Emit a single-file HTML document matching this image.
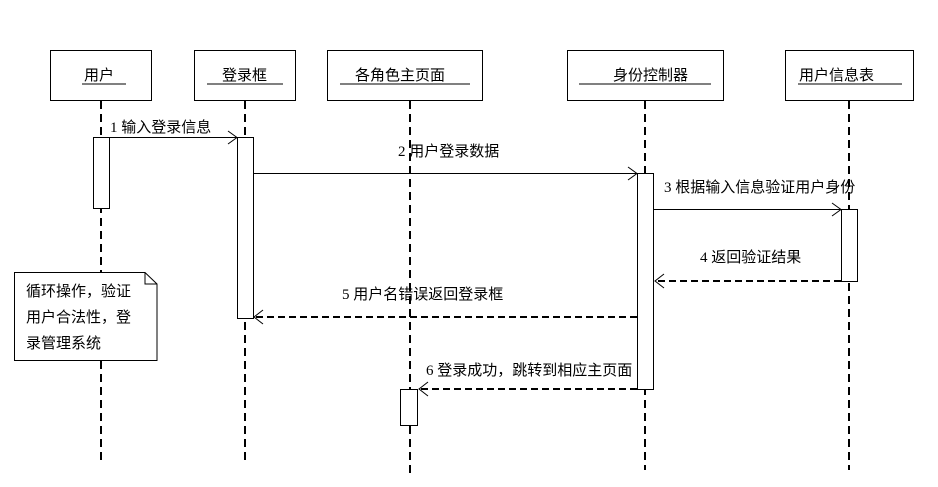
<!DOCTYPE html>
<html><head><meta charset="utf-8"><style>
html,body{margin:0;padding:0;background:#fff;}
svg text{font-family:"Liberation Serif","Noto Sans CJK SC",sans-serif;font-size:15px;fill:#000;}
</style></head><body>
<svg width="938" height="482" viewBox="0 0 938 482" xmlns="http://www.w3.org/2000/svg">
<g fill="#fff" stroke="#000" stroke-width="1">
<rect x="50.5" y="50.5" width="101" height="50"/>
<rect x="194.5" y="50.5" width="101" height="50"/>
<rect x="327.5" y="50.5" width="155" height="50"/>
<rect x="567.5" y="50.5" width="156" height="50"/>
<rect x="785.5" y="50.5" width="128" height="50"/>
</g>
<g stroke="#000" stroke-width="2" stroke-dasharray="8,5">
<line x1="101" y1="101" x2="101" y2="460"/>
<line x1="245" y1="101" x2="245" y2="460"/>
<line x1="410" y1="101" x2="410" y2="478"/>
<line x1="645" y1="101" x2="645" y2="470"/>
<line x1="849" y1="101" x2="849" y2="470"/>
</g>
<text x="84" y="80">用户</text>
<line x1="82" y1="84" x2="126" y2="84" stroke="#000"/>
<text x="222" y="80">登录框</text>
<line x1="207" y1="84" x2="283" y2="84" stroke="#000"/>
<text x="355" y="80">各角色主页面</text>
<line x1="340" y1="84" x2="470" y2="84" stroke="#000"/>
<text x="613" y="80">身份控制器</text>
<line x1="579" y1="84" x2="711" y2="84" stroke="#000"/>
<text x="799" y="80">用户信息表</text>
<line x1="798" y1="84" x2="902" y2="84" stroke="#000"/>
<g fill="#fff" stroke="#000" stroke-width="1">
<rect x="93.5" y="137.5" width="16" height="71"/>
<rect x="237.5" y="137.5" width="16" height="181"/>
<rect x="637.5" y="173.5" width="16" height="216"/>
<rect x="841.5" y="209.5" width="16" height="72"/>
<rect x="400.5" y="389.5" width="17" height="36"/>
</g>
<g stroke="#000" stroke-width="1" fill="none">
<line x1="110" y1="137.5" x2="237" y2="137.5"/>
<polyline points="228,131 237,137.5 228,144"/>
<line x1="254" y1="173.5" x2="637" y2="173.5"/>
<polyline points="628,167 637,173.5 628,180"/>
<line x1="654" y1="209.5" x2="841" y2="209.5"/>
<polyline points="832,203 841,209.5 832,216"/>
</g>
<g stroke="#000" stroke-width="2" fill="none" stroke-dasharray="7,4">
<line x1="841" y1="281" x2="656" y2="281"/>
<line x1="637" y1="317" x2="256" y2="317"/>
<line x1="637" y1="389" x2="420" y2="389"/>
</g>
<g stroke="#000" stroke-width="1" fill="none">
<polyline points="664,274 655,281 664,288"/>
<polyline points="263,310 254,317 263,324"/>
<polyline points="428,382 419,389 428,396"/>
</g>
<text x="110" y="132">1  输入登录信息</text>
<text x="398" y="156">2  用户登录数据</text>
<text x="664" y="192">3  根据输入信息验证用户身份</text>
<text x="700" y="262">4  返回验证结果</text>
<text x="342" y="299">5  用户名错误返回登录框</text>
<text x="426" y="375">6  登录成功，跳转到相应主页面</text>
<path d="M14.5,272.5 H145 L157,284 V360.5 H14.5 Z" fill="#fff" stroke="#000"/>
<polyline points="145,272.5 145,284 157,284" fill="none" stroke="#000"/>
<text x="26" y="296">循环操作，验证</text>
<text x="26" y="322">用户合法性，登</text>
<text x="26" y="348">录管理系统</text>
</svg>
</body></html>
